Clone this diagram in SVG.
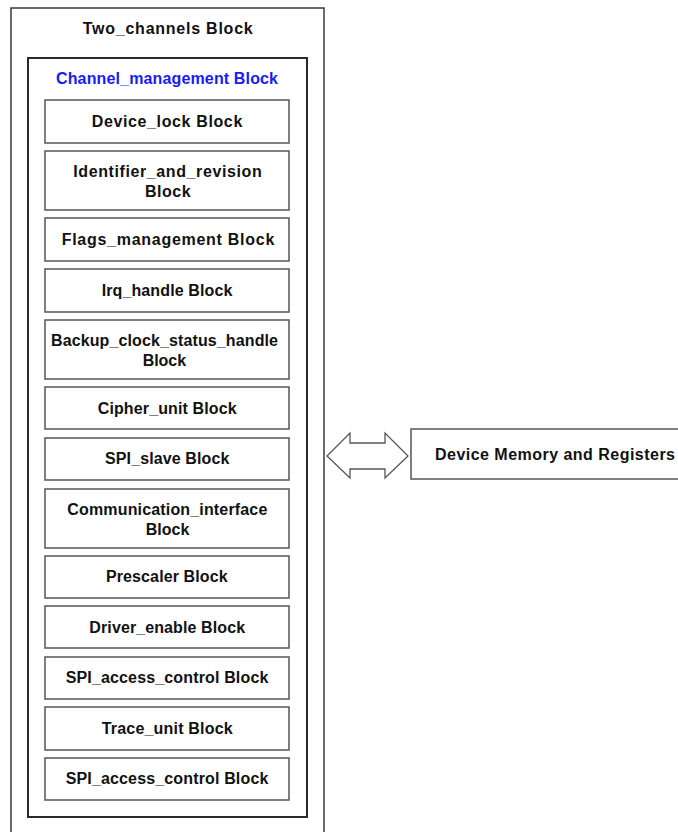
<svg xmlns="http://www.w3.org/2000/svg" width="678" height="832" viewBox="0 0 678 832">
<style>
text{font-family:"Liberation Sans",Arial,sans-serif;font-weight:bold;font-size:16px;fill:#111;text-anchor:middle}
.blk{fill:#fff;stroke:#555;stroke-width:1.5}
.outer{fill:#fff;stroke:#3a3a3a;stroke-width:1.5}
.inner{fill:#fff;stroke:#2a2a2a;stroke-width:2}
.blue{fill:#1a1aff}
.arrow{fill:#fff;stroke:#555;stroke-width:1.3}
</style>
<rect width="678" height="832" fill="#fff"/>
<g id="two_channels">
<rect class="outer" x="11" y="8" width="313" height="840"/>
<text x="167.7" y="34" textLength="170">Two_channels Block</text>
</g>
<g id="channel_management">
<rect class="inner" x="28" y="58" width="279" height="759"/>
<text class="blue" x="167" y="84" textLength="222">Channel_management Block</text>
</g>
<g id="device_lock"><rect class="blk" x="45" y="100" width="244" height="43"/><text x="167" y="127" textLength="150.6">Device_lock Block</text></g>
<g id="identifier"><rect class="blk" x="45" y="151" width="244" height="59"/><text x="167.5" y="177" textLength="188.4">Identifier_and_revision</text><text x="167.8" y="197" textLength="45.7">Block</text></g>
<g id="flags"><rect class="blk" x="45" y="218" width="244" height="43"/><text x="168" y="245" textLength="212.6">Flags_management Block</text></g>
<g id="irq"><rect class="blk" x="45" y="269" width="244" height="43"/><text x="167" y="295.5" textLength="130.7">Irq_handle Block</text></g>
<g id="backup"><rect class="blk" x="45" y="320" width="244" height="59"/><text x="164.5" y="346" textLength="227">Backup_clock_status_handle</text><text x="164.4" y="366" textLength="43.3">Block</text></g>
<g id="cipher"><rect class="blk" x="45" y="387" width="244" height="42"/><text x="167.2" y="413.5" textLength="139">Cipher_unit Block</text></g>
<g id="spi_slave"><rect class="blk" x="45" y="438" width="244" height="42"/><text x="167.2" y="464" textLength="124.3">SPI_slave Block</text></g>
<g id="communication"><rect class="blk" x="45" y="489" width="244" height="59"/><text x="167.3" y="514.5" textLength="200">Communication_interface</text><text x="167.5" y="534.5" textLength="43.6">Block</text></g>
<g id="prescaler"><rect class="blk" x="45" y="556" width="244" height="42"/><text x="166.8" y="582" textLength="121.7">Prescaler Block</text></g>
<g id="driver_enable"><rect class="blk" x="45" y="606" width="244" height="42"/><text x="167.2" y="632.5" textLength="155.7">Driver_enable Block</text></g>
<g id="spi_access_1"><rect class="blk" x="45" y="657" width="244" height="42"/><text x="167" y="683" textLength="202.7">SPI_access_control Block</text></g>
<g id="trace"><rect class="blk" x="45" y="707" width="244" height="43"/><text x="167.2" y="733.5" textLength="131">Trace_unit Block</text></g>
<g id="spi_access_2"><rect class="blk" x="45" y="758" width="244" height="42"/><text x="167" y="784" textLength="202.7">SPI_access_control Block</text></g>
<g id="device_memory">
<rect class="blk" x="411" y="429" width="300" height="50"/>
<text x="435" y="460" style="text-anchor:start" textLength="240">Device Memory and Registers</text>
</g>
<g id="connectors">
<polygon class="arrow" points="327,456 350,433 350,443 385,443 385,433 408,456 385,478 385,469 350,469 350,478"/>
</g>
</svg>
